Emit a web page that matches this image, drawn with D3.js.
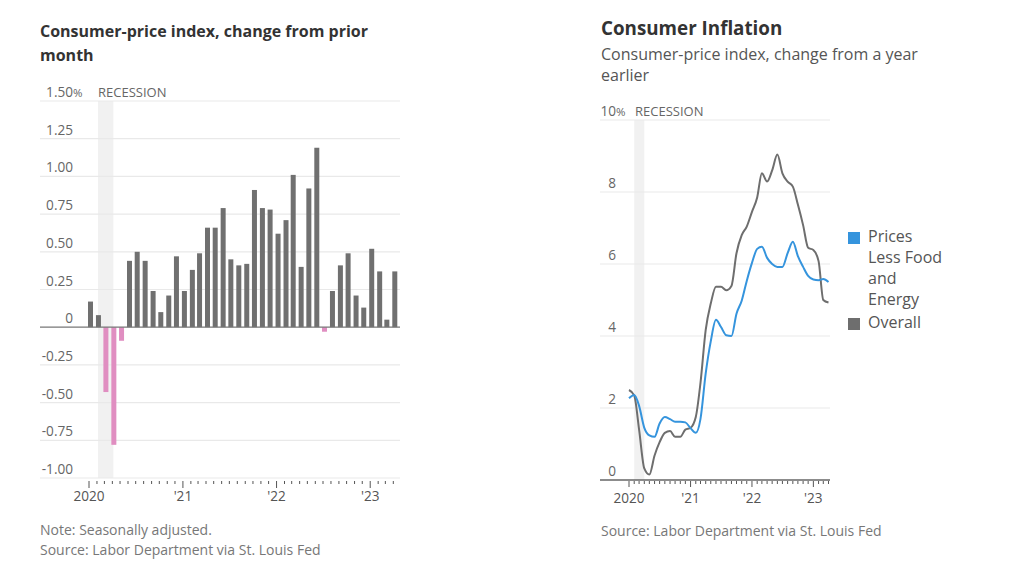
<!DOCTYPE html>
<html><head><meta charset="utf-8">
<script src="https://cdn.jsdelivr.net/npm/d3@7"></script>
<style>
html,body{margin:0;padding:0;background:#fff;}
svg{display:block;font-family:"Open Sans","Noto Sans",sans-serif;}
</style></head>
<body><svg id="c" width="1024" height="576"></svg>
<script>
// ---- Data ----
const monthsStart = [2020, 0]; // Jan 2020, 40 months to Apr 2023
const momChange = [0.17,0.08,-0.43,-0.78,-0.09,0.44,0.50,0.44,0.24,0.10,0.21,0.47,
  0.24,0.38,0.49,0.66,0.66,0.79,0.45,0.41,0.42,0.91,0.79,0.78,
  0.62,0.71,1.01,0.40,0.92,1.19,-0.03,0.24,0.41,0.49,0.21,0.13,
  0.52,0.37,0.05,0.37];
const yoyOverall = [2.5,2.35,1.4,0.32,0.15,0.68,1.05,1.31,1.36,1.2,1.2,1.4,
  1.45,1.75,2.7,4.17,4.9,5.37,5.37,5.27,5.39,6.3,6.8,7.04,
  7.45,7.85,8.52,8.29,8.6,9.04,8.52,8.29,8.15,7.65,7.08,6.45,
  6.39,6.08,5.0,4.93];
const yoyCore = [2.27,2.36,2.06,1.45,1.24,1.2,1.57,1.75,1.69,1.62,1.62,1.6,
  1.44,1.31,1.7,2.96,3.85,4.45,4.25,4.02,4.0,4.62,4.98,5.53,
  6.03,6.42,6.48,6.17,6.0,5.92,5.92,6.3,6.62,6.22,5.92,5.67,
  5.57,5.55,5.58,5.5];
const leftTicks = [1.5,1.25,1.0,0.75,0.5,0.25,0,-0.25,-0.5,-0.75,-1.0];
const leftTickLabels = ["1.50%","1.25","1.00","0.75","0.50","0.25","0","-0.25","-0.50","-0.75","-1.00"];
const rightTicks = [10,8,6,4,2,0];
const rightTickLabels = ["10%","8","6","4","2","0"];
const yearLabels = ["2020","'21","'22","'23"];
const recession = [new Date(2020,1,1), new Date(2020,3,1)];
const legendItems = [{name:["Prices","Less Food","and","Energy"], color:"#3594dd"},{name:["Overall"], color:"#6e6e6e"}];

const months = momChange.map((v,i)=>new Date(monthsStart[0], monthsStart[1]+i, 1));
const yearDates = [new Date(2020,0,1),new Date(2021,0,1),new Date(2022,0,1),new Date(2023,0,1)];

const svg = d3.select("#c");
const labelColor = "#666", gridColor = "#e9e9e9";
const tickFs = 13.6;

// ================= LEFT CHART =================
const xL = d3.scaleTime().domain([new Date(2020,0,1), new Date(2023,4,1)]).range([89, 401]);
const yL = d3.scaleLinear().domain([-1, 1.5]).range([478, 101]);

svg.append("text").attr("x",40).attr("y",37).attr("font-size",16).attr("font-weight",700).attr("fill","#333")
  .text("Consumer-price index, change from prior");
svg.append("text").attr("x",40).attr("y",61).attr("font-size",16).attr("font-weight",700).attr("fill","#333")
  .text("month");

const gL = svg.append("g");
gL.append("rect").attr("x", xL(recession[0])+1).attr("width", xL(recession[1])-xL(recession[0]))
  .attr("y", yL(1.5)).attr("height", yL(-1)-yL(1.5)).attr("fill","#f1f1f1");
gL.selectAll(".gl").data(leftTicks.filter(d=>d!==0)).join("line")
  .attr("x1",40).attr("x2",400).attr("y1",d=>yL(d)).attr("y2",d=>yL(d))
  .attr("stroke",gridColor).attr("stroke-width",1.2);
leftTicks.forEach((d,i)=>{
  const lab = leftTickLabels[i];
  gL.append("text").attr("x",73).attr("y",yL(d)-4).attr("font-size",tickFs).attr("fill",labelColor)
    .attr("text-anchor","end").text(lab.replace("%",""));
  if(lab.includes("%")) gL.append("text").attr("x",73).attr("y",yL(d)-4).attr("font-size",11.5).attr("fill",labelColor).text("%");
});
gL.append("text").attr("x",98).attr("y",yL(1.5)-4).attr("font-size",13).attr("fill",labelColor).text("RECESSION");

gL.selectAll(".bar").data(momChange).join("rect")
  .attr("x",(d,i)=>xL(months[i])-1).attr("width",5)
  .attr("y",d=>yL(Math.max(0,d))).attr("height",d=>Math.abs(yL(d)-yL(0)))
  .attr("fill",d=>d<0?"#e08ec1":"#707070");
gL.append("line").attr("x1",40).attr("x2",400).attr("y1",yL(0)).attr("y2",yL(0)).attr("stroke","#777").attr("stroke-width",1.3);
const tickMonthsL = d3.timeMonth.range(new Date(2020,0,1), new Date(2023,4,1));
gL.selectAll(".xt").data(tickMonthsL).join("line")
  .attr("x1",d=>xL(d)).attr("x2",d=>xL(d)).attr("y1",481).attr("y2",d=>d.getMonth()===0?488:484)
  .attr("stroke","#555").attr("stroke-width",1);
gL.selectAll(".xl").data(yearDates).join("text")
  .attr("x",d=>xL(d)).attr("y",501).attr("text-anchor","middle").attr("font-size",tickFs).attr("fill","#555")
  .text((d,i)=>yearLabels[i]);

svg.append("text").attr("x",40).attr("y",535).attr("font-size",14).attr("fill","#777").text("Note: Seasonally adjusted.");
svg.append("text").attr("x",40).attr("y",555).attr("font-size",14).attr("fill","#777").text("Source: Labor Department via St. Louis Fed");

// ================= RIGHT CHART =================
const xR = d3.scaleTime().domain([new Date(2020,0,1), new Date(2023,3,1)]).range([629, 828.5]);
const yR = d3.scaleLinear().domain([0,10]).range([480,120]);

svg.append("text").attr("x",601).attr("y",35).attr("font-size",18.8).attr("font-weight",700).attr("fill","#333").text("Consumer Inflation");
svg.append("text").attr("x",601).attr("y",60).attr("font-size",16).attr("fill","#555").text("Consumer-price index, change from a year");
svg.append("text").attr("x",601).attr("y",81).attr("font-size",16).attr("fill","#555").text("earlier");

const gR = svg.append("g");
gR.append("rect").attr("x",xR(recession[0])).attr("width",xR(recession[1])-xR(recession[0]))
  .attr("y",yR(10)).attr("height",yR(0)-yR(10)).attr("fill","#f1f1f1");
gR.selectAll(".gr").data(rightTicks.filter(d=>d!==0)).join("line")
  .attr("x1",600).attr("x2",830).attr("y1",d=>yR(d)).attr("y2",d=>yR(d))
  .attr("stroke",gridColor).attr("stroke-width",1.2);
rightTicks.forEach((d,i)=>{
  const lab = rightTickLabels[i];
  gR.append("text").attr("x",616).attr("y",yR(d)-4).attr("font-size",tickFs).attr("fill",labelColor)
    .attr("text-anchor","end").text(lab.replace("%",""));
  if(lab.includes("%")) gR.append("text").attr("x",616).attr("y",yR(d)-4).attr("font-size",11.5).attr("fill",labelColor).text("%");
});
gR.append("text").attr("x",635).attr("y",yR(10)-4).attr("font-size",13).attr("fill",labelColor).text("RECESSION");

const line = d3.line().x((d,i)=>xR(months[i])).y(d=>yR(d)).curve(d3.curveMonotoneX);
gR.append("path").datum(yoyOverall).attr("d",line).attr("fill","none").attr("stroke","#6e6e6e").attr("stroke-width",2);
gR.append("path").datum(yoyCore).attr("d",line).attr("fill","none").attr("stroke","#3594dd").attr("stroke-width",2);

gR.append("line").attr("x1",600).attr("x2",830).attr("y1",yR(0)).attr("y2",yR(0)).attr("stroke","#666").attr("stroke-width",1.3);
const tickMonthsR = d3.timeMonth.range(new Date(2020,0,1), new Date(2023,4,1));
gR.selectAll(".xt").data(tickMonthsR).join("line")
  .attr("x1",d=>xR(d)).attr("x2",d=>xR(d)).attr("y1",481).attr("y2",d=>d.getMonth()===0?487:484)
  .attr("stroke","#555").attr("stroke-width",1);
gR.selectAll(".xl").data(yearDates).join("text")
  .attr("x",d=>xR(d)).attr("y",503).attr("text-anchor","middle").attr("font-size",tickFs).attr("fill","#555")
  .text((d,i)=>yearLabels[i]);

let ly = 232;
legendItems.forEach(item=>{
  gR.append("rect").attr("x",848).attr("y",ly).attr("width",12).attr("height",12).attr("fill",item.color);
  item.name.forEach((t,j)=>{
    gR.append("text").attr("x",868).attr("y",ly+10+j*21).attr("font-size",16).attr("fill","#555").text(t);
  });
  ly += item.name.length*21 + 2;
});

svg.append("text").attr("x",601).attr("y",536).attr("font-size",14).attr("fill","#777").text("Source: Labor Department via St. Louis Fed");
</script></body></html>
